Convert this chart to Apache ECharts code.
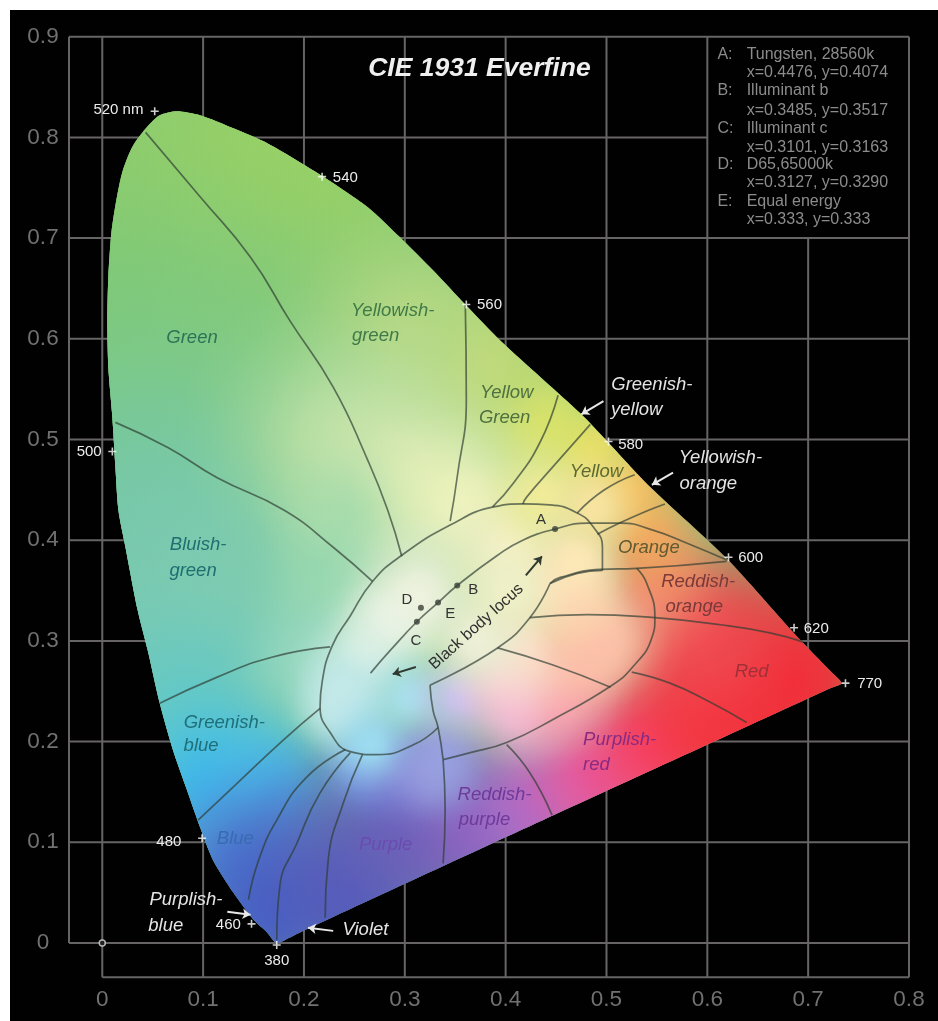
<!DOCTYPE html>
<html><head><meta charset="utf-8">
<style>html,body{margin:0;padding:0;background:#fff}
#bg{position:absolute;left:10px;top:10px;width:928px;height:1011px;background:#020102}
#chart{position:absolute;left:0;top:0;width:938px;height:1021px}</style>
<script src="https://cdn.jsdelivr.net/npm/echarts@6/dist/echarts.min.js"></script>
</head><body><div id="bg"></div><div id="chart"></div>
<script>
const xTicks=[0,0.1,0.2,0.3,0.4,0.5,0.6,0.7,0.8];
const yTicks=[0,0.1,0.2,0.3,0.4,0.5,0.6,0.7,0.8,0.9];
const gridSegments=[
 [[-0.033,0],[-0.033,0.9]],[[0,-0.034],[0,0.9]],[[0.1,-0.034],[0.1,0.9]],[[0.2,-0.034],[0.2,0.9]],[[0.3,-0.034],[0.3,0.9]],
 [[0.4,-0.034],[0.4,0.9]],[[0.5,-0.034],[0.5,0.9]],[[0.6,-0.034],[0.6,0.9]],[[0.7,-0.034],[0.7,0.7]],[[0.8,-0.034],[0.8,0.9]],
 [[0,-0.034],[0.8,-0.034]],[[-0.033,0],[0.8,0]],[[-0.033,0.1],[0.8,0.1]],[[-0.033,0.2],[0.8,0.2]],[[-0.033,0.3],[0.8,0.3]],
 [[-0.033,0.4],[0.8,0.4]],[[-0.033,0.5],[0.8,0.5]],[[-0.033,0.6],[0.8,0.6]],[[-0.033,0.7],[0.8,0.7]],[[-0.033,0.8],[0.6,0.8]],[[-0.033,0.9],[0.8,0.9]]
];
const locus=[[.173,0],[.163,.011],[.150,.023],[.130,.050],[.110,.082],[.097,.115],[.084,.152],[.070,.192],[.057,.238],[.045,.291],[.035,.331],[.023,.393],[.016,.430],[.013,.473],[.010,.522],[.006,.572],[.005,.619],[.006,.661],[.009,.705],[.014,.738],[.020,.766],[.030,.791],[.045,.811],[.057,.822],[.074,.826],[.097,.822],[.130,.809],[.164,.794],[.216,.763],[.263,.731],[.295,.701],[.328,.668],[.360,.634],[.397,.596],[.474,.526],[.499,.500],[.543,.453],[.619,.382],[.690,.303],[.722,.270],[.733,.258],[.722,.253],[.45,.128],[.195,.010],[.185,.005]];
const baseColor='#80c878';
const colorAnchors=[
 [.097,.738,.3,'#8ecc6e'],[.196,.787,.2,'#97d066'],[.028,.589,.2,'#7cc878'],[.147,.539,.2,'#82ca80'],[.028,.44,.2,'#78c898'],
 [.067,.341,.22,'#76c8b2'],[.157,.321,.18,'#80ccb0'],[.087,.221,.13,'#62c8c8'],[.107,.152,.09,'#3cbcec'],[.166,.152,.09,'#48bce8'],
 [.137,.082,.1,'#4c88d8'],[.166,.033,.1,'#4466c8'],[.246,.053,.14,'#5058bc'],[.295,.112,.12,'#6460b8'],[.365,.112,.1,'#7c60bc'],
 [.424,.132,.1,'#a86cc8'],[.484,.162,.09,'#dc60b0'],[.543,.192,.11,'#f44c80'],[.612,.231,.13,'#f83440'],[.682,.261,.15,'#f22c38'],
 [.593,.301,.1,'#f04850'],[.553,.351,.07,'#f07c68'],[.543,.40,.07,'#f0a460'],[.523,.45,.06,'#f4bc60'],[.484,.49,.06,'#ecdc68'],
 [.434,.519,.08,'#dce468'],[.375,.579,.1,'#c4da74'],[.305,.609,.12,'#b4d884'],[.226,.509,.12,'#b0dca0'],[.295,.47,.12,'#d4e8b0'],
 [.239,.417,.08,'#a8dcac'],[.223,.351,.07,'#98d8b0'],[.206,.281,.07,'#98d8c0'],
 [.263,.172,.05,'#7090e0'],[.295,.165,.05,'#7878d0'],[.328,.165,.05,'#9090d8'],
 [.355,.44,.09,'#ecf2bc'],[.315,.345,.08,'#eef2de'],[.285,.318,.05,'#f0f4e4'],[.262,.285,.06,'#dcf0e4'],[.239,.251,.05,'#c0e8e8'],[.236,.231,.05,'#c4e8e8'],
 [.305,.244,.05,'#a8e0ec'],[.266,.197,.05,'#9cdcf0'],[.335,.182,.05,'#98a0e0'],[.355,.244,.05,'#c8c0f0'],[.414,.231,.06,'#f0b8d8'],[.454,.241,.06,'#f8a0b0'],
 [.404,.258,.05,'#f4c0d8'],[.471,.268,.05,'#f8a0a0'],[.424,.291,.07,'#fcdcc8'],[.494,.301,.07,'#fcc4a8'],[.487,.301,.05,'#fcc0a8'],[.454,.351,.06,'#fcd8a8'],[.471,.344,.05,'#fcd4b0'],
 [.372,.301,.06,'#eef0d8'],[.404,.395,.07,'#f4f0c8'],[.404,.351,.06,'#f0f0c8'],[.437,.443,.06,'#f0ec98'],[.471,.383,.05,'#fde8b8'],[.487,.433,.05,'#f8e4a0']
];
const innerEllipse=[[.333,.214],[.309,.197],[.273,.187],[.246,.190],[.226,.209],[.216,.235],[.218,.259],[.228,.295],[.246,.325],[.268,.359],[.297,.385],[.345,.415],[.388,.433],[.417,.436],[.444,.435],[.471,.427],[.487,.413],[.496,.393],[.496,.370]];
const notchTop=[[.496,.370],[.471,.367],[.444,.357]];
const notchSide=[[.444,.357],[.424,.323],[.392,.293],[.325,.256]];
const notchDrop=[[.325,.256],[.328,.231],[.333,.214],[.338,.182]];
const purpleDivider=[[.338,.182],[.340,.132],[.338,.079]];
const pinkEllipse=[[.338,.182],[.365,.189],[.401,.199],[.447,.222],[.504,.255],[.526,.274],[.545,.303],[.548,.323],[.540,.357],[.530,.372]];
const redOrangeTop=[[.444,.357],[.454,.363],[.494,.371],[.530,.372],[.619,.379]];
const blackBodyLocus=[[.266,.268],[.286,.291],[.312,.319],[.333,.338],[.352,.355],[.392,.385],[.417,.400],[.449,.411],[.481,.417],[.514,.417],[.546,.410],[.580,.397],[.620,.380]];
const boundaries=[
 [[.043,.805],[.097,.741],[.147,.681],[.186,.618],[.229,.552],[.263,.480],[.283,.430],[.297,.384]],
 [[.013,.517],[.065,.492],[.114,.462],[.180,.430],[.229,.393],[.268,.359]],
 [[.057,.238],[.114,.264],[.169,.284],[.226,.294]],
 [[.095,.122],[.130,.155],[.180,.202],[.216,.233]],
 [[.145,.043],[.155,.082],[.173,.122],[.203,.165],[.241,.192]],
 [[.173,.003],[.176,.056],[.193,.099],[.216,.149],[.246,.189]],
 [[.221,.025],[.224,.082],[.239,.139],[.258,.187]],
 [[.401,.197],[.424,.169],[.446,.127]],
 [[.525,.269],[.563,.258],[.603,.239],[.639,.219]],
 [[.392,.293],[.447,.276],[.504,.254]],
 [[.424,.323],[.481,.326],[.548,.323],[.613,.316],[.662,.308],[.695,.299]],
 [[.360,.634],[.361,.540],[.352,.463],[.345,.419]],
 [[.452,.544],[.434,.497],[.408,.457],[.387,.433]],
 [[.484,.515],[.447,.473],[.421,.443],[.417,.436]],
 [[.471,.427],[.498,.450],[.528,.465]],
 [[.491,.406],[.513,.417],[.540,.429],[.558,.436]]
];
const illuminants=[[.449,.411],[.352,.355],[.312,.319],[.316,.333],[.333,.338]];
const pointLetters=[[.435,.420,'A'],[.368,.351,'B'],[.311,.300,'C'],[.302,.341,'D'],[.345,.327,'E']];
const wavelengthMarks=[[.052,.826],[.218,.761],[.361,.634],[.502,.498],[.621,.383],[.686,.313],[.737,.258],[.010,.488],[.099,.104],[.148,.019],[.173,-.002]];
const wavelengthLabels=[[.016,.827,'520 nm'],[.241,.760,'540'],[.384,.634,'560'],[.524,.495,'580'],[.643,.382,'600'],[.708,.312,'620'],[.761,.257,'770'],[-.013,.488,'500'],[.066,.100,'480'],[.125,.018,'460'],[.173,-.018,'380']];
const origin=[[0,0]];
const regionLabelsDark=[
 [.089,.601,'Green','#2d7358'],[.288,.628,'Yellowish-','#3f7a48'],[.271,.603,'green','#3f7a48'],[.401,.546,'Yellow','#4f7040'],[.399,.521,'Green','#4f7040'],
 [.490,.468,'Yellow','#5c6a30'],[.542,.392,'Orange','#5f5a30'],[.591,.359,'Reddish-','#7a3a3a'],[.587,.334,'orange','#7a3a3a'],[.644,.269,'Red','#a03038'],
 [.513,.202,'Purplish-','#8a2a80'],[.490,.177,'red','#8a2a80'],[.389,.147,'Reddish-','#6d3a9a'],[.379,.122,'purple','#6d3a9a'],[.281,.097,'Purple','#6a4cb0'],
 [.132,.103,'Blue','#3a6ab0'],[.121,.219,'Greenish-','#1f6f78'],[.098,.196,'blue','#1f6f78'],[.095,.395,'Bluish-','#1f6f70'],[.090,.370,'green','#1f6f70']
];
const regionLabelsLight=[[.545,.554,'Greenish-'],[.530,.529,'yellow'],[.613,.482,'Yellowish-'],[.601,.456,'orange'],[.083,.043,'Purplish-'],[.063,.017,'blue'],[.261,.013,'Violet']];
const title=[.374,.868,'CIE 1931 Everfine'];
const locusCaption=[.371,.314,'Black body locus'];
const legendKeys=[[.610,.882,'A:'],[.610,.846,'B:'],[.610,.809,'C:'],[.610,.773,'D:'],[.610,.736,'E:']];
const legendLines=[[.639,.882,'Tungsten, 28560k'],[.639,.864,'x=0.4476, y=0.4074'],[.639,.846,'Illuminant b'],[.639,.827,'x=0.3485, y=0.3517'],[.639,.809,'Illuminant c'],[.639,.790,'x=0.3101, y=0.3163'],[.639,.773,'D65,65000k'],[.639,.755,'x=0.3127, y=0.3290'],[.639,.736,'Equal energy'],[.639,.718,'x=0.333, y=0.333']];
const lightArrows=[[[.497,.538],[.475,.525]],[[.566,.467],[.545,.455]],[[.229,.012],[.204,.015]],[[.124,.031],[.147,.028]]];
const darkArrows=[[[.420,.365],[.436,.384]],[[.311,.274],[.288,.267]]];

const FF='"Liberation Sans",Arial,sans-serif';
const rgba=(h,a)=>`rgba(${parseInt(h.slice(1,3),16)},${parseInt(h.slice(3,5),16)},${parseInt(h.slice(5,7),16)},${a})`;
const textSeries=(rows,style)=>({type:'custom',coordinateSystem:'cartesian2d',z:8,silent:true,clip:false,
 data:rows.map(r=>[r[0],r[1]]),encode:{x:0,y:1},
 renderItem(p,api){const r=rows[p.dataIndex],c=api.coord([r[0],r[1]]);
  return {type:'text',x:c[0],y:c[1],rotation:style.rotation||0,style:{text:r[2],fill:r[3]||style.fill,font:style.font,align:style.align||'center',verticalAlign:'middle'}};}});
const curve=(pts,z)=>({type:'line',data:pts,smooth:0.5,showSymbol:false,symbol:'none',silent:true,z:z||4,clip:false,
 lineStyle:{color:'rgba(45,60,50,0.68)',width:1.7}});
const arrows=(rows,color)=>({type:'lines',coordinateSystem:'cartesian2d',z:7,silent:true,symbol:['none','arrow'],symbolSize:8,
 lineStyle:{color,width:2,opacity:1,curveness:0},data:rows.map(r=>({coords:r}))});
const CROSS='path://M4 0H6V4H10V6H6V10H4V6H0V4H4Z';
const series=[
 {type:'custom',coordinateSystem:'cartesian2d',z:1,silent:true,clip:false,data:gridSegments.map(s=>[s[0][0],s[0][1]]),encode:{x:0,y:1},
  renderItem(p,api){const s=gridSegments[p.dataIndex],a=api.coord(s[0]),b=api.coord(s[1]);
   return {type:'line',shape:{x1:a[0],y1:a[1],x2:b[0],y2:b[1]},style:{stroke:'#666464',lineWidth:2}};}},
 {type:'custom',coordinateSystem:'cartesian2d',z:2,silent:true,clip:false,data:[[.3,.4]],encode:{x:0,y:1},
  renderItem(p,api){return {type:'polygon',shape:{points:locus.map(q=>api.coord(q)),smooth:0.25},style:{fill:baseColor}};}},
 {type:'custom',coordinateSystem:'cartesian2d',z:3,silent:true,clip:false,data:colorAnchors.map(a=>[a[0],a[1]]),encode:{x:0,y:1},
  renderItem(p,api){const a=colorAnchors[p.dataIndex],c=api.coord([a[0],a[1]]),r=api.size([a[2],0])[0]*1.25;
   return {type:'polygon',shape:{points:locus.map(q=>api.coord(q)),smooth:0.25},style:{fill:new echarts.graphic.RadialGradient(c[0],c[1],r,[
    {offset:0,color:rgba(a[3],1)},{offset:.2,color:rgba(a[3],.9)},{offset:.4,color:rgba(a[3],.62)},{offset:.6,color:rgba(a[3],.32)},{offset:.8,color:rgba(a[3],.09)},{offset:1,color:rgba(a[3],0)}],true)}};}},
 ...[innerEllipse,notchTop,notchSide,notchDrop,purpleDivider,pinkEllipse,redOrangeTop,blackBodyLocus,...boundaries].map(b=>curve(b)),
 {type:'scatter',data:illuminants,symbol:'circle',symbolSize:6,z:6,silent:true,itemStyle:{color:'#3a4038'}},
 {type:'scatter',data:wavelengthMarks,symbol:CROSS,symbolSize:8,z:6,silent:true,clip:false,itemStyle:{color:'#fff'}},
 {type:'scatter',data:origin,symbol:'circle',symbolSize:6,z:6,silent:true,itemStyle:{color:'#111',borderColor:'#ddd',borderWidth:1.5}},
 arrows(lightArrows,'#e8e8e8'),arrows(darkArrows,'#2f3a30'),
 textSeries(regionLabelsDark,{font:'italic 18.5px '+FF}),
 textSeries(regionLabelsLight,{font:'italic 18.5px '+FF,fill:'#e4e4e4'}),
 textSeries(pointLetters,{font:'15px '+FF,fill:'#333'}),
 textSeries(wavelengthLabels,{font:'15px '+FF,fill:'#ececec'}),
 textSeries([title],{font:'italic bold 26.5px '+FF,fill:'#f0f0f0'}),
 textSeries([locusCaption],{font:'16px '+FF,fill:'#2e2e2e',rotation:0.73}),
 textSeries(legendKeys,{font:'16px '+FF,fill:'#8c8c8c',align:'left'}),
 textSeries(legendLines,{font:'16px '+FF,fill:'#8c8c8c',align:'left'})
];
const chart=echarts.init(document.getElementById('chart'),null,{renderer:'canvas'});
chart.setOption({animation:false,backgroundColor:'transparent',tooltip:{show:false},
 grid:{left:69,top:36.7,width:840,height:940.5,containLabel:false},
 xAxis:{type:'value',min:-0.033,max:0.8,splitLine:{show:false},axisLine:{show:false},axisTick:{show:false},
  axisLabel:{customValues:xTicks,color:'#717171',fontSize:22.5,fontFamily:FF,margin:11,formatter:v=>String(+v.toFixed(1))}},
 yAxis:{type:'value',min:-0.034,max:0.9,splitLine:{show:false},axisLine:{show:false},axisTick:{show:false},
  axisLabel:{customValues:yTicks,color:'#717171',fontSize:22.5,fontFamily:FF,margin:26,align:'center',formatter:v=>String(+v.toFixed(1))}},
 series});
</script></body></html>
